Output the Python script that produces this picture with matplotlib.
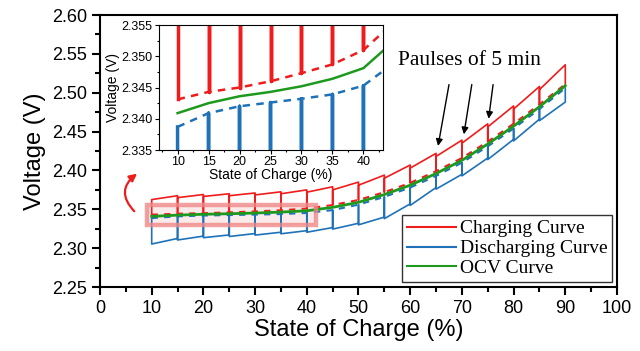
import matplotlib
matplotlib.use("Agg")
from matplotlib import pyplot as plt
from matplotlib.patches import Rectangle, FancyArrowPatch
from matplotlib.ticker import MultipleLocator, FormatStrFormatter

plt.rcParams['font.family'] = ['Liberation Sans', 'DejaVu Sans']

# breakpoints (% SOC) where the 5 min pauses happen
soc = [10, 15, 20, 25, 30, 35, 40, 45, 50, 55, 60, 65, 70, 75, 80, 85, 90]
ocv = [2.3409, 2.3425, 2.3436, 2.3443, 2.3452, 2.3464, 2.3481, 2.3525, 2.359,
       2.369, 2.381, 2.396, 2.413, 2.434, 2.457, 2.482, 2.509]

# charging: relaxed value at each pause, value at pulse start and pulse end
chg_rest = [2.3431, 2.3443, 2.3450, 2.3460, 2.3473, 2.3487, 2.3510, 2.3555, 2.362,
            2.372, 2.384, 2.399, 2.416, 2.437, 2.460, 2.485, 2.511]
chg_start = [2.3625, 2.365, 2.3665, 2.3675, 2.3685, 2.370, 2.372, 2.375,
             2.381, 2.390, 2.403, 2.418, 2.435, 2.456, 2.479, 2.504]   # at 10..85
chg_end = [2.3675, 2.369, 2.370, 2.371, 2.3725, 2.375, 2.379, 2.385,
           2.394, 2.407, 2.422, 2.439, 2.460, 2.483, 2.508, 2.536]     # at 15..90

# discharging (runs from 90 down to 10)
dis_rest = [2.3387, 2.3409, 2.3420, 2.3426, 2.3432, 2.3439, 2.3453, 2.349, 2.356,
            2.366, 2.378, 2.393, 2.410, 2.431, 2.454, 2.479, 2.506]
dis_end = [2.3053, 2.3105, 2.3135, 2.315, 2.3168, 2.3185, 2.3205, 2.3245,
           2.330, 2.338, 2.355, 2.376, 2.393, 2.414, 2.438, 2.464]     # at 10..85
dis_start = [2.3125, 2.3155, 2.317, 2.3188, 2.3205, 2.3225, 2.3265, 2.332,
             2.340, 2.357, 2.378, 2.395, 2.416, 2.440, 2.466, 2.488]   # at 15..90

RED = '#f01c1c'
BLUE = '#1f72b8'
GREEN = '#1d9a1d'

# build the step curves
cx, cy = [soc[0]], [chg_rest[0]]
for i in range(len(soc) - 1):
    cx += [soc[i], soc[i + 1], soc[i + 1]]
    cy += [chg_start[i], chg_end[i], chg_rest[i + 1]]

dx, dy = [soc[-1]], [dis_rest[-1]]
for i in range(len(soc) - 1, 0, -1):
    dx += [soc[i], soc[i - 1], soc[i - 1]]
    dy += [dis_start[i - 1], dis_end[i - 1], dis_rest[i - 1]]

fig = plt.figure(figsize=(6.4, 3.51), dpi=100)
ax = fig.add_axes([0.15625, 0.1823, 0.8078, 0.7749])

ax.plot(cx, cy, color=RED, lw=1.2, label='Charging Curve')
ax.plot(dx, dy, color=BLUE, lw=1.2, label='Discharging Curve')
ax.plot(soc, chg_rest, color=RED, lw=1.5, ls=(0, (3, 3)))
ax.plot(soc, dis_rest, color=BLUE, lw=1.5, ls=(0, (3, 3)))
ax.plot(soc, ocv, color=GREEN, lw=2, label='OCV Curve')

ax.set_xlim(0, 100)
ax.set_ylim(2.25, 2.60)
ax.xaxis.set_major_locator(MultipleLocator(10))
ax.xaxis.set_minor_locator(MultipleLocator(5))
ax.yaxis.set_major_locator(MultipleLocator(0.05))
ax.yaxis.set_minor_locator(MultipleLocator(0.025))
ax.yaxis.set_major_formatter(FormatStrFormatter('%.2f'))
ax.tick_params(which='major', labelsize=13, length=6, width=1.5)
ax.tick_params(which='minor', length=3.5, width=1.5)
for s in ax.spines.values():
    s.set_linewidth(1.5)
ax.set_xlabel('State of Charge (%)', fontsize=17, labelpad=1)
ax.set_ylabel('Voltage (V)', fontsize=17, labelpad=4)

leg = ax.legend(loc='lower right', prop={'family': 'Liberation Serif', 'size': 14},
                frameon=True, fancybox=False, edgecolor='black', handlelength=2.5,
                handletextpad=0.2, borderpad=0.25, labelspacing=0.12,
                borderaxespad=0.25)
leg.get_frame().set_linewidth(1.0)
for h in leg.get_lines():
    h.set_linewidth(1.5)

# highlight box and curved arrow to the inset
ax.add_patch(Rectangle((9, 2.3295), 32.7, 0.0265, facecolor='#f6c4c4', alpha=0.35,
                       edgecolor='none', zorder=1))
ax.add_patch(Rectangle((9, 2.3295), 32.7, 0.0265, facecolor='none',
                       edgecolor='#f08888', lw=3.2, alpha=0.8, zorder=4))
ax.add_patch(FancyArrowPatch((7.0, 2.345), (7.6, 2.398), connectionstyle='arc3,rad=-0.6',
                             arrowstyle='-|>', mutation_scale=11, color=RED, lw=1.6))

ax.text(71.5, 2.541, 'Paulses of 5 min', fontsize=15.5, family='Liberation Serif',
        ha='center', va='center')
arrows = [((67.6, 2.514), (65.3, 2.428)), ((72.0, 2.514), (70.3, 2.443)),
          ((76.1, 2.514), (75.1, 2.463))]
for tail, head in arrows:
    ax.annotate('', xy=head, xytext=tail,
                arrowprops=dict(arrowstyle='-|>', color='black', lw=1, mutation_scale=10))

# inset
ins = fig.add_axes([0.2484, 0.5726, 0.3495, 0.3561])
ins.plot(cx, cy, color=RED, lw=2.5)
ins.plot(dx, dy, color=BLUE, lw=2.5)
ins.plot(soc, chg_rest, color=RED, lw=1.8, ls=(0, (3, 2.5)))
ins.plot(soc, dis_rest, color=BLUE, lw=1.8, ls=(0, (3, 2.5)))
ins.plot(soc, ocv, color=GREEN, lw=1.8)
ins.set_xlim(7, 43.1)
ins.set_ylim(2.335, 2.355)
ins.xaxis.set_major_locator(MultipleLocator(5))
ins.xaxis.set_minor_locator(MultipleLocator(2.5))
ins.yaxis.set_major_locator(MultipleLocator(0.005))
ins.yaxis.set_minor_locator(MultipleLocator(0.0025))
ins.yaxis.set_major_formatter(FormatStrFormatter('%.3f'))
ins.tick_params(which='major', labelsize=9, length=3, width=0.8, pad=1.5)
ins.tick_params(which='minor', length=1.5, width=0.8)
for s in ins.spines.values():
    s.set_linewidth(0.8)
ins.set_xlabel('State of Charge (%)', fontsize=10, labelpad=0)
ins.set_ylabel('Voltage (V)', fontsize=10, labelpad=1)

fig.savefig('out.png', dpi=100)
